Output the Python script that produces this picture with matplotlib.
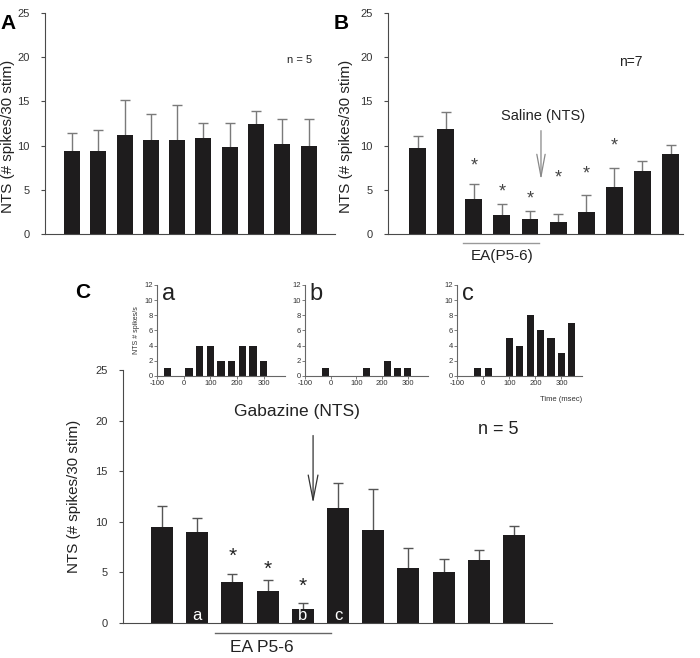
import numpy as np
import matplotlib
matplotlib.use('Agg')
import matplotlib.pyplot as plt

plt.rcParams['font.family'] = ['Liberation Sans', 'DejaVu Sans']
plt.rcParams['axes.unicode_minus'] = False

# panel A
a_vals = [9.4, 9.4, 11.2, 10.6, 10.6, 10.8, 9.8, 12.4, 10.2, 10.0]
a_tops = [11.4, 11.8, 15.1, 13.6, 14.6, 12.5, 12.6, 13.9, 13.0, 13.0]

# panel B
b_vals = [9.7, 11.9, 4.0, 2.15, 1.7, 1.4, 2.45, 5.35, 7.15, 9.0]
b_tops = [11.1, 13.8, 5.6, 3.35, 2.65, 2.3, 4.4, 7.5, 8.2, 10.1]
b_star_idx = [2, 3, 4, 5, 6, 7]
b_star_y = [7.7, 4.8, 4.0, 6.3, 6.8, 10.0]

# panel C
c_vals = [9.45, 9.0, 4.05, 3.2, 1.35, 11.4, 9.2, 5.4, 5.0, 6.2, 8.65]
c_tops = [11.6, 10.4, 4.85, 4.25, 2.0, 13.85, 13.2, 7.45, 6.35, 7.2, 9.55]
c_star_idx = [2, 3, 4]
c_star_y = [6.6, 5.35, 3.65]
c_letters = {1: 'a', 4: 'b', 5: 'c'}

# insets (histograms, 40 ms bins)
ha_x = [-60, 20, 60, 100, 140, 180, 220, 260, 300]
ha_y = [1, 1, 4, 4, 2, 2, 4, 4, 2]
hb_x = [-20, 140, 220, 260, 300]
hb_y = [1, 1, 2, 1, 1]
hc_x = [-20, 20, 100, 140, 180, 220, 260, 300, 340]
hc_y = [1, 1, 5, 4, 8, 6, 5, 3, 7]

BAR = '#1e1c1d'
AX = '#4a4a4a'


def style_main(ax, pad=3, ly=0.5):
    ax.spines['top'].set_visible(False)
    ax.spines['right'].set_visible(False)
    ax.spines['left'].set_color(AX)
    ax.spines['bottom'].set_color(AX)
    ax.set_ylim(0, 25)
    ax.set_yticks([0, 5, 10, 15, 20, 25])
    ax.tick_params(axis='y', colors=AX, labelsize=8, length=3, labelcolor='#333333', pad=8)
    ax.set_xticks([])
    ax.set_ylabel('NTS (# spikes/30 stim)', fontsize=10.9, color='#222222', labelpad=pad, y=ly)


def bars(ax, vals, tops, width, ecolor):
    x = np.arange(len(vals))
    ax.bar(x, vals, width=width, color=BAR, zorder=2)
    up = np.array(tops) - np.array(vals)
    eb = ax.errorbar(x, vals, yerr=[np.zeros(len(vals)), up], fmt='none',
                     ecolor=ecolor, elinewidth=1, capsize=3.5, capthick=1, zorder=1)
    eb[1][0].set_visible(False)


fig = plt.figure(figsize=(7, 6.58), dpi=100)

# ---- A
axA = fig.add_axes([0.0643, 0.6444, 0.414, 0.336])
bars(axA, a_vals, a_tops, 0.61, '#7a7a7a')
axA.set_xlim(-1.03, 10)
style_main(axA, pad=2, ly=0.44)
axA.text(8.66, 19.7, 'n = 5', fontsize=8, ha='center', va='center', color='#222222')
fig.text(0.0, 0.978, 'A', fontsize=15, fontweight='bold', va='top')

# ---- B
axB = fig.add_axes([0.5543, 0.6444, 0.421, 0.336])
bars(axB, b_vals, b_tops, 0.6, '#7a7a7a')
axB.set_xlim(-1.05, 9.43)
style_main(axB, pad=5, ly=0.44)
for i, y in zip(b_star_idx, b_star_y):
    axB.text(i, y, '*', fontsize=13, ha='center', va='center', color='#444444')
axB.text(7.6, 19.5, 'n=7', fontsize=10, ha='center', va='center', color='#222222')
axB.text(4.45, 13.3, 'Saline (NTS)', fontsize=10.5, ha='center', va='center', color='#222222')
axB.annotate('', xy=(4.39, 5.8), xytext=(4.39, 12.0),
             arrowprops=dict(arrowstyle='->,head_length=1.6,head_width=0.3', color='#888888', lw=0.9))
axB.plot([1.62, 4.31], [-1.0, -1.0], color='#999999', lw=1, clip_on=False)
axB.text(3.0, -2.5, 'EA(P5-6)', fontsize=11, ha='center', va='center', color='#222222')
fig.text(0.476, 0.978, 'B', fontsize=15, fontweight='bold', va='top')

# ---- C
axC = fig.add_axes([0.1757, 0.0532, 0.613, 0.3845])
bars(axC, c_vals, c_tops, 0.625, '#555555')
axC.set_xlim(-1.11, 11.08)
style_main(axC, pad=10)
for i, y in zip(c_star_idx, c_star_y):
    axC.text(i, y, '*', fontsize=15, ha='center', va='center', color='#222222')
for i, s in c_letters.items():
    axC.text(i, 0.75, s, fontsize=12, ha='center', va='center', color='white')
axC.text(9.55, 19.1, 'n = 5', fontsize=13, ha='center', va='center', color='#222222')
axC.text(3.84, 20.9, 'Gabazine (NTS)', fontsize=12.5, ha='center', va='center', color='#222222')
axC.annotate('', xy=(4.29, 11.55), xytext=(4.29, 18.8),
             arrowprops=dict(arrowstyle='->,head_length=1.8,head_width=0.35', color='#333333', lw=0.9))
axC.plot([1.5, 4.8], [-1.0, -1.0], color='#666666', lw=1, clip_on=False)
axC.text(2.84, -2.4, 'EA P5-6', fontsize=12.5, ha='center', va='center', color='#222222')
fig.text(0.107, 0.57, 'C', fontsize=15, fontweight='bold', va='top')

# ---- insets
insets = [
    ([0.2243, 0.4286, 0.183, 0.1383], ha_x, ha_y, 'a'),
    ([0.4357, 0.4286, 0.176, 0.1383], hb_x, hb_y, 'b'),
    ([0.6529, 0.4286, 0.179, 0.1383], hc_x, hc_y, 'c'),
]
for rect, hx, hy, lab in insets:
    ax = fig.add_axes(rect)
    ax.bar(hx, hy, width=27, color=BAR)
    ax.set_xlim(-100, 380)
    ax.set_ylim(0, 12)
    ax.set_yticks([0, 2, 4, 6, 8, 10, 12])
    ax.set_xticks([-100, 0, 100, 200, 300])
    ax.spines['top'].set_visible(False)
    ax.spines['right'].set_visible(False)
    ax.spines['left'].set_color('#666666')
    ax.spines['bottom'].set_color('#666666')
    ax.tick_params(colors='#666666', labelsize=5.5, length=2, width=0.6, pad=1,
                   labelcolor='#333333')
    ax.text(0.04, 1.02, lab, transform=ax.transAxes, fontsize=17, va='top', ha='left',
            color='#222222')
    if lab == 'a':
        ax.set_ylabel('NTS # spikes/s', fontsize=5, color='#333333', labelpad=3)
    if lab == 'c':
        ax.text(1.0, -0.22, 'Time (msec)', transform=ax.transAxes, fontsize=5.5,
                ha='right', va='top', color='#333333')

fig.savefig('out.png', dpi=100)
